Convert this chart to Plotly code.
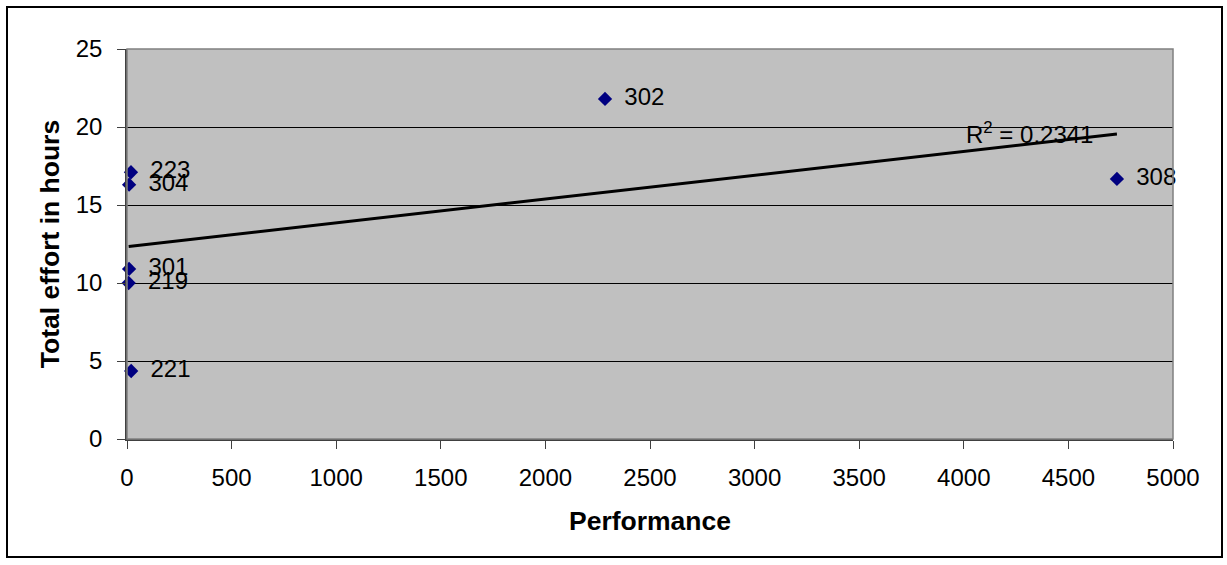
import numpy as np
import plotly.graph_objects as go

# Projects: performance vs. total effort
project_ids = ["223", "304", "301", "219", "221", "302", "308"]
performance = [19, 10, 10, 8, 20, 2285, 4732]
effort_hours = [17.1, 16.3, 10.9, 10.0, 4.36, 21.8, 16.67]

x_ticks = [0, 500, 1000, 1500, 2000, 2500, 3000, 3500, 4000, 4500, 5000]
y_ticks = [0, 5, 10, 15, 20, 25]
r2_text = "R<sup>2</sup> = 0.2341"

FONT = "Liberation Sans, Arial, sans-serif"
TICK_SIZE = 24
TITLE_SIZE = 26.5

# Linear trend line across the data range
slope, intercept = np.polyfit(performance, effort_hours, 1)
trend_x = [min(performance), max(performance)]
trend_y = [intercept + slope * v for v in trend_x]

fig = go.Figure()
fig.add_trace(go.Scatter(
    x=trend_x, y=trend_y, mode="lines",
    line=dict(color="black", width=3),
    hoverinfo="skip", showlegend=False,
))
fig.add_trace(go.Scatter(
    x=performance, y=effort_hours, mode="markers+text",
    marker=dict(symbol="diamond", color="#000080", size=11),
    text=[" \u2009" + p for p in project_ids],
    textposition="middle right",
    textfont=dict(family=FONT, size=TICK_SIZE, color="black"),
    cliponaxis=False,
    showlegend=False,
))

fig.add_annotation(
    x=4316, y=19.6, text=r2_text, showarrow=False,
    font=dict(family=FONT, size=TICK_SIZE, color="black"),
    xanchor="center", yanchor="middle",
)

# Plot area frame and outer chart border
fig.add_shape(type="rect", xref="paper", yref="paper", x0=0, x1=1, y0=0, y1=1,
              line=dict(color="#808080", width=1.5), layer="above")
fig.add_shape(type="rect", xref="paper", yref="paper",
              x0=-120 / 1046, x1=1 + 49 / 1046, y0=-118 / 390, y1=1 + 42 / 390,
              line=dict(color="black", width=2), layer="above")

fig.update_layout(
    width=1227, height=565,
    margin=dict(l=127, r=54, t=49, b=126),
    paper_bgcolor="white",
    plot_bgcolor="#C0C0C0",
    font=dict(family=FONT, size=TICK_SIZE, color="black"),
    xaxis=dict(
        range=[0, 5000], tickvals=x_ticks, ticktext=[str(v) for v in x_ticks],
        showgrid=False, zeroline=False,
        showline=True, linecolor="#404040", linewidth=1.5,
        ticks="outside", ticklen=8, tickcolor="#404040",
        ticklabelstandoff=8,
        tickfont=dict(family=FONT, size=TICK_SIZE),
        title=dict(text="<b>Performance</b>", font=dict(family=FONT, size=TITLE_SIZE), standoff=22),
    ),
    yaxis=dict(
        range=[0, 25], tickvals=y_ticks, ticktext=[str(v) for v in y_ticks],
        showgrid=True, gridcolor="black", gridwidth=1, zeroline=False,
        showline=True, linecolor="#404040", linewidth=1.5,
        ticks="outside", ticklen=8, tickcolor="#404040",
        ticklabelstandoff=10,
        tickfont=dict(family=FONT, size=TICK_SIZE),
        title=dict(text="<b>Total effort in hours</b>", font=dict(family=FONT, size=TITLE_SIZE), standoff=8),
    ),
)

fig.write_html("out.html")
